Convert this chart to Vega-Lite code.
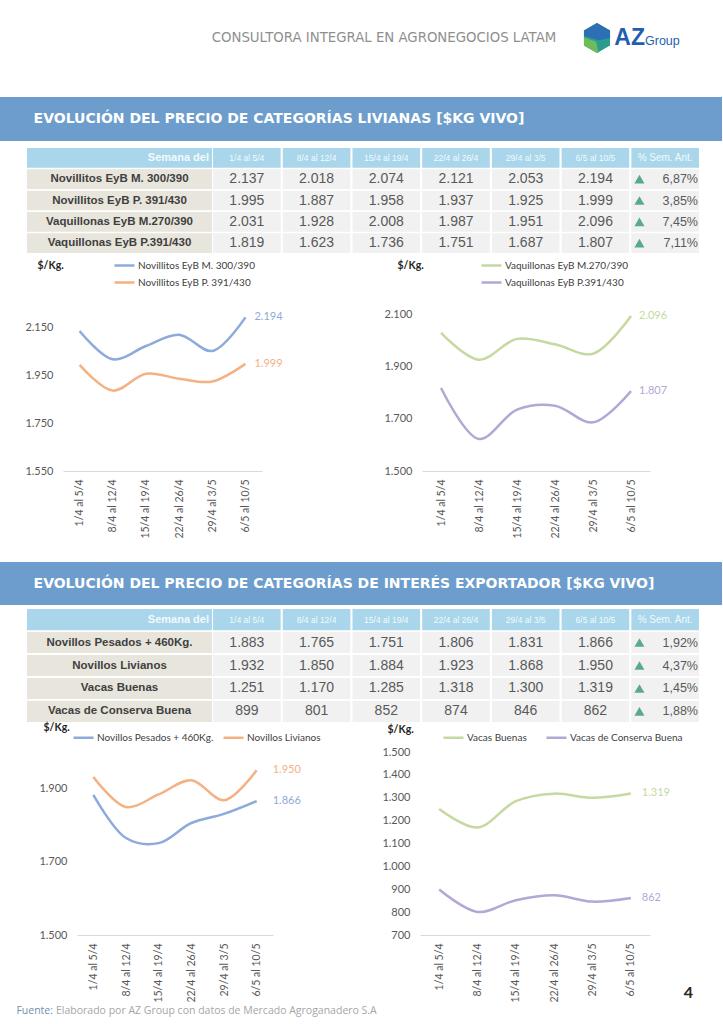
{
"$schema": "https://vega.github.io/schema/vega-lite/v6.json",
"padding": 0,
"background": "white",
"spacing": 0,
"center": false,
"resolve": {"scale": {"color": "independent", "shape": "independent"}, "legend": {"color": "independent", "shape": "independent"}},
"config": {
  "view": {"stroke": null},
  "locale": {"number": {"decimal": ",", "thousands": ".", "grouping": [3], "currency": ["$", ""]}},
  "font": "Lato",
  "axis": {"grid": false, "ticks": false, "labelFont": "Lato", "labelFontSize": 11, "labelColor": "#595959", "titleFont": "Lato", "titleFontSize": 10.5, "titleFontWeight": "bold", "titleColor": "#262626"},
  "axisY": {"domain": false, "labelPadding": 10},
  "axisX": {"domain": true, "domainColor": "#d9d9d9", "domainWidth": 1, "labelAngle": -90, "labelPadding": 8, "labelFontSize": 10.5},
  "legend": {"symbolType": "stroke", "symbolStrokeWidth": 2.5, "symbolSize": 400, "labelFont": "Lato", "labelFontSize": 10, "labelColor": "#404040", "labelOffset": 2, "rowPadding": -1, "padding": 0}
},
"datasets": {
  "cols": [{"col": "1/4 al 5/4"}, {"col": "8/4 al 12/4"}, {"col": "15/4 al 19/4"}, {"col": "22/4 al 26/4"}, {"col": "29/4 al 3/5"}, {"col": "6/5 al 10/5"}, {"col": "% Sem. Ant."}],
  "t1": [
    {"cat": "Novillitos EyB M. 300/390", "week": "1/4 al 5/4", "value": 2137},
    {"cat": "Novillitos EyB M. 300/390", "week": "8/4 al 12/4", "value": 2018},
    {"cat": "Novillitos EyB M. 300/390", "week": "15/4 al 19/4", "value": 2074},
    {"cat": "Novillitos EyB M. 300/390", "week": "22/4 al 26/4", "value": 2121},
    {"cat": "Novillitos EyB M. 300/390", "week": "29/4 al 3/5", "value": 2053},
    {"cat": "Novillitos EyB M. 300/390", "week": "6/5 al 10/5", "value": 2194},
    {"cat": "Novillitos EyB P. 391/430", "week": "1/4 al 5/4", "value": 1995},
    {"cat": "Novillitos EyB P. 391/430", "week": "8/4 al 12/4", "value": 1887},
    {"cat": "Novillitos EyB P. 391/430", "week": "15/4 al 19/4", "value": 1958},
    {"cat": "Novillitos EyB P. 391/430", "week": "22/4 al 26/4", "value": 1937},
    {"cat": "Novillitos EyB P. 391/430", "week": "29/4 al 3/5", "value": 1925},
    {"cat": "Novillitos EyB P. 391/430", "week": "6/5 al 10/5", "value": 1999},
    {"cat": "Vaquillonas EyB M.270/390", "week": "1/4 al 5/4", "value": 2031},
    {"cat": "Vaquillonas EyB M.270/390", "week": "8/4 al 12/4", "value": 1928},
    {"cat": "Vaquillonas EyB M.270/390", "week": "15/4 al 19/4", "value": 2008},
    {"cat": "Vaquillonas EyB M.270/390", "week": "22/4 al 26/4", "value": 1987},
    {"cat": "Vaquillonas EyB M.270/390", "week": "29/4 al 3/5", "value": 1951},
    {"cat": "Vaquillonas EyB M.270/390", "week": "6/5 al 10/5", "value": 2096},
    {"cat": "Vaquillonas EyB P.391/430", "week": "1/4 al 5/4", "value": 1819},
    {"cat": "Vaquillonas EyB P.391/430", "week": "8/4 al 12/4", "value": 1623},
    {"cat": "Vaquillonas EyB P.391/430", "week": "15/4 al 19/4", "value": 1736},
    {"cat": "Vaquillonas EyB P.391/430", "week": "22/4 al 26/4", "value": 1751},
    {"cat": "Vaquillonas EyB P.391/430", "week": "29/4 al 3/5", "value": 1687},
    {"cat": "Vaquillonas EyB P.391/430", "week": "6/5 al 10/5", "value": 1807}
  ],
  "p1": [
    {"cat": "Novillitos EyB M. 300/390", "pct": 0.0687},
    {"cat": "Novillitos EyB P. 391/430", "pct": 0.0385},
    {"cat": "Vaquillonas EyB M.270/390", "pct": 0.0745},
    {"cat": "Vaquillonas EyB P.391/430", "pct": 0.0711}
  ],
  "t2": [
    {"cat": "Novillos Pesados + 460Kg.", "week": "1/4 al 5/4", "value": 1883},
    {"cat": "Novillos Pesados + 460Kg.", "week": "8/4 al 12/4", "value": 1765},
    {"cat": "Novillos Pesados + 460Kg.", "week": "15/4 al 19/4", "value": 1751},
    {"cat": "Novillos Pesados + 460Kg.", "week": "22/4 al 26/4", "value": 1806},
    {"cat": "Novillos Pesados + 460Kg.", "week": "29/4 al 3/5", "value": 1831},
    {"cat": "Novillos Pesados + 460Kg.", "week": "6/5 al 10/5", "value": 1866},
    {"cat": "Novillos Livianos", "week": "1/4 al 5/4", "value": 1932},
    {"cat": "Novillos Livianos", "week": "8/4 al 12/4", "value": 1850},
    {"cat": "Novillos Livianos", "week": "15/4 al 19/4", "value": 1884},
    {"cat": "Novillos Livianos", "week": "22/4 al 26/4", "value": 1923},
    {"cat": "Novillos Livianos", "week": "29/4 al 3/5", "value": 1868},
    {"cat": "Novillos Livianos", "week": "6/5 al 10/5", "value": 1950},
    {"cat": "Vacas Buenas", "week": "1/4 al 5/4", "value": 1251},
    {"cat": "Vacas Buenas", "week": "8/4 al 12/4", "value": 1170},
    {"cat": "Vacas Buenas", "week": "15/4 al 19/4", "value": 1285},
    {"cat": "Vacas Buenas", "week": "22/4 al 26/4", "value": 1318},
    {"cat": "Vacas Buenas", "week": "29/4 al 3/5", "value": 1300},
    {"cat": "Vacas Buenas", "week": "6/5 al 10/5", "value": 1319},
    {"cat": "Vacas de Conserva Buena", "week": "1/4 al 5/4", "value": 899},
    {"cat": "Vacas de Conserva Buena", "week": "8/4 al 12/4", "value": 801},
    {"cat": "Vacas de Conserva Buena", "week": "15/4 al 19/4", "value": 852},
    {"cat": "Vacas de Conserva Buena", "week": "22/4 al 26/4", "value": 874},
    {"cat": "Vacas de Conserva Buena", "week": "29/4 al 3/5", "value": 846},
    {"cat": "Vacas de Conserva Buena", "week": "6/5 al 10/5", "value": 862}
  ],
  "p2": [
    {"cat": "Novillos Pesados + 460Kg.", "pct": 0.0192},
    {"cat": "Novillos Livianos", "pct": 0.0437},
    {"cat": "Vacas Buenas", "pct": 0.0145},
    {"cat": "Vacas de Conserva Buena", "pct": 0.0188}
  ]
},
"vconcat": [
  {"hconcat": [
    {"width": 208, "height": 97, "data": {"values": []}, "mark": "rect"},
    {"width": 352, "height": 76, "data": {"values": [{"t": "CONSULTORA INTEGRAL EN AGRONEGOCIOS LATAM"}]},
     "mark": {"type": "text", "font": "DejaVu Sans", "fontSize": 13.3, "color": "#8f8f8f"},
     "encoding": {"text": {"field": "t", "type": "nominal"}}},
    {"width": 74, "height": 76, "data": {"values": [{"part": "base"}, {"part": "top"}, {"part": "leaf"}]},
     "mark": {"type": "point", "filled": true, "size": 900, "opacity": 1, "strokeWidth": 0},
     "encoding": {
       "shape": {"field": "part", "type": "nominal", "scale": {"domain": ["base", "top", "leaf"], "range": ["M0,-1L0.87,-0.5L0.87,0.5L0,1L-0.87,0.5L-0.87,-0.5Z", "M0,-1L0.87,-0.5L0.87,0L0.1,0.15L-0.87,-0.15L-0.87,-0.5Z", "M-0.87,-0.05L-0.05,0.25L0.1,1L0,1L-0.87,0.5Z"]}, "legend": null},
       "color": {"field": "part", "type": "nominal", "scale": {"domain": ["base", "top", "leaf"], "range": ["#2a9d8f", "#2c6fb5", "#6dbb5a"]}, "legend": null}
     }},
    {"width": 22, "height": 76, "data": {"values": [{"a": "AZ", "g": "Group"}]},
     "layer": [
       {"mark": {"type": "text", "align": "right", "font": "Liberation Sans", "fontWeight": "bold", "fontSize": 23, "color": "#1f5fae"}, "encoding": {"text": {"field": "a", "type": "nominal"}}},
       {"mark": {"type": "text", "align": "left", "font": "Liberation Sans", "fontSize": 12.5, "color": "#1f5fae", "dy": 3}, "encoding": {"text": {"field": "g", "type": "nominal"}}}
     ]}
  ], "spacing": 0, "bounds": "flush"},

  {"hconcat": [
    {"width": 558, "height": 44, "view": {"fill": "#6c9dcd"}, "data": {"values": [{"t": "EVOLUCIÓN DEL PRECIO DE CATEGORÍAS LIVIANAS [$KG VIVO]"}]},
     "mark": {"type": "text", "font": "DejaVu Sans", "fontWeight": "bold", "fontSize": 14, "color": "white"},
     "encoding": {"text": {"field": "t", "type": "nominal"}}},
    {"width": 164, "height": 44, "view": {"fill": "#6c9dcd"}, "data": {"values": []}, "mark": "rect"},
    {"width": 1, "height": 50, "data": {"values": []}, "mark": "rect"}
  ], "spacing": 0, "bounds": "flush"},

  {"hconcat": [
    {"width": 27, "height": 105, "data": {"values": []}, "mark": "rect"},
    {"width": 185, "height": 105,
     "layer": [
       {"data": {"name": "p1"}, "mark": {"type": "rect", "color": "#e8e5dc"},
        "encoding": {"y": {"field": "cat", "type": "nominal", "scale": {"domain": ["Semana del", "Novillitos EyB M. 300/390", "Novillitos EyB P. 391/430", "Vaquillonas EyB M.270/390", "Vaquillonas EyB P.391/430"], "paddingInner": 0.08, "paddingOuter": 0}, "axis": null}}},
       {"data": {"values": [{"h": "Semana del"}]}, "mark": {"type": "rect", "color": "#a9d6ea"},
        "encoding": {"y": {"field": "h", "type": "nominal", "scale": {"domain": ["Semana del", "Novillitos EyB M. 300/390", "Novillitos EyB P. 391/430", "Vaquillonas EyB M.270/390", "Vaquillonas EyB P.391/430"], "paddingInner": 0.08, "paddingOuter": 0}, "axis": null}}},
       {"data": {"name": "p1"}, "mark": {"type": "text", "font": "Liberation Sans", "fontWeight": "bold", "fontSize": 11.5, "color": "#404040"},
        "encoding": {"y": {"field": "cat", "type": "nominal", "scale": {"domain": ["Semana del", "Novillitos EyB M. 300/390", "Novillitos EyB P. 391/430", "Vaquillonas EyB M.270/390", "Vaquillonas EyB P.391/430"], "paddingInner": 0.08, "paddingOuter": 0}, "axis": null}, "text": {"field": "cat", "type": "nominal"}}},
       {"data": {"values": [{"h": "Semana del"}]}, "mark": {"type": "text", "align": "right", "dx": -3, "font": "Liberation Sans", "fontWeight": "bold", "fontSize": 11, "color": "#f2fafd"},
        "encoding": {"x": {"datum": "Semana del", "type": "nominal", "bandPosition": 1, "scale": {"type": "band", "domain": ["Semana del"], "paddingInner": 0, "paddingOuter": 0}, "axis": null},
                     "y": {"field": "h", "type": "nominal", "scale": {"domain": ["Semana del", "Novillitos EyB M. 300/390", "Novillitos EyB P. 391/430", "Vaquillonas EyB M.270/390", "Vaquillonas EyB P.391/430"], "paddingInner": 0.08, "paddingOuter": 0}, "axis": null},
                     "text": {"field": "h", "type": "nominal"}}}
     ]},
    {"width": 488, "height": 105,
     "layer": [
       {"data": {"name": "cols"}, "mark": {"type": "rect", "color": "#a9d6ea"},
        "encoding": {"x": {"field": "col", "type": "nominal", "scale": {"domain": ["1/4 al 5/4", "8/4 al 12/4", "15/4 al 19/4", "22/4 al 26/4", "29/4 al 3/5", "6/5 al 10/5", "% Sem. Ant."], "paddingInner": 0.03, "paddingOuter": 0.015}, "axis": null},
                     "y": {"datum": "Semana del", "type": "nominal", "scale": {"domain": ["Semana del", "Novillitos EyB M. 300/390", "Novillitos EyB P. 391/430", "Vaquillonas EyB M.270/390", "Vaquillonas EyB P.391/430"], "paddingInner": 0.08, "paddingOuter": 0}, "axis": null}}},
       {"data": {"name": "cols"}, "mark": {"type": "text", "font": "Liberation Sans Narrow, Liberation Sans", "color": "#f2fafd"},
        "encoding": {"x": {"field": "col", "type": "nominal", "scale": {"domain": ["1/4 al 5/4", "8/4 al 12/4", "15/4 al 19/4", "22/4 al 26/4", "29/4 al 3/5", "6/5 al 10/5", "% Sem. Ant."], "paddingInner": 0.03, "paddingOuter": 0.015}, "axis": null},
                     "y": {"datum": "Semana del", "type": "nominal", "scale": {"domain": ["Semana del", "Novillitos EyB M. 300/390", "Novillitos EyB P. 391/430", "Vaquillonas EyB M.270/390", "Vaquillonas EyB P.391/430"], "paddingInner": 0.08, "paddingOuter": 0}, "axis": null},
                     "text": {"field": "col", "type": "nominal"},
                     "size": {"condition": {"test": "datum.col === '% Sem. Ant.'", "value": 10}, "value": 8.5}}},
       {"data": {"name": "t1"}, "mark": {"type": "rect", "color": "#f1f1f1"},
        "encoding": {"x": {"field": "week", "type": "nominal", "scale": {"domain": ["1/4 al 5/4", "8/4 al 12/4", "15/4 al 19/4", "22/4 al 26/4", "29/4 al 3/5", "6/5 al 10/5", "% Sem. Ant."], "paddingInner": 0.03, "paddingOuter": 0.015}, "axis": null},
                     "y": {"field": "cat", "type": "nominal", "scale": {"domain": ["Semana del", "Novillitos EyB M. 300/390", "Novillitos EyB P. 391/430", "Vaquillonas EyB M.270/390", "Vaquillonas EyB P.391/430"], "paddingInner": 0.08, "paddingOuter": 0}, "axis": null}}},
       {"data": {"name": "p1"}, "mark": {"type": "rect", "color": "#f1f1f1"},
        "encoding": {"x": {"datum": "% Sem. Ant.", "type": "nominal", "scale": {"domain": ["1/4 al 5/4", "8/4 al 12/4", "15/4 al 19/4", "22/4 al 26/4", "29/4 al 3/5", "6/5 al 10/5", "% Sem. Ant."], "paddingInner": 0.03, "paddingOuter": 0.015}, "axis": null},
                     "y": {"field": "cat", "type": "nominal", "scale": {"domain": ["Semana del", "Novillitos EyB M. 300/390", "Novillitos EyB P. 391/430", "Vaquillonas EyB M.270/390", "Vaquillonas EyB P.391/430"], "paddingInner": 0.08, "paddingOuter": 0}, "axis": null}}},
       {"data": {"name": "t1"}, "mark": {"type": "text", "font": "Liberation Sans Narrow, Liberation Sans", "fontSize": 14, "color": "#595959"},
        "encoding": {"x": {"field": "week", "type": "nominal", "scale": {"domain": ["1/4 al 5/4", "8/4 al 12/4", "15/4 al 19/4", "22/4 al 26/4", "29/4 al 3/5", "6/5 al 10/5", "% Sem. Ant."], "paddingInner": 0.03, "paddingOuter": 0.015}, "axis": null},
                     "y": {"field": "cat", "type": "nominal", "scale": {"domain": ["Semana del", "Novillitos EyB M. 300/390", "Novillitos EyB P. 391/430", "Vaquillonas EyB M.270/390", "Vaquillonas EyB P.391/430"], "paddingInner": 0.08, "paddingOuter": 0}, "axis": null},
                     "text": {"field": "value", "type": "quantitative", "format": ",d"}}},
       {"data": {"name": "p1"}, "mark": {"type": "point", "shape": "triangle-up", "filled": true, "size": 100, "opacity": 1, "color": "#5aa98c"},
        "encoding": {"x": {"datum": "% Sem. Ant.", "type": "nominal", "bandPosition": 0.12, "scale": {"domain": ["1/4 al 5/4", "8/4 al 12/4", "15/4 al 19/4", "22/4 al 26/4", "29/4 al 3/5", "6/5 al 10/5", "% Sem. Ant."], "paddingInner": 0.03, "paddingOuter": 0.015}, "axis": null},
                     "y": {"field": "cat", "type": "nominal", "scale": {"domain": ["Semana del", "Novillitos EyB M. 300/390", "Novillitos EyB P. 391/430", "Vaquillonas EyB M.270/390", "Vaquillonas EyB P.391/430"], "paddingInner": 0.08, "paddingOuter": 0}, "axis": null}}},
       {"data": {"name": "p1"}, "mark": {"type": "text", "align": "right", "dx": -1, "font": "Liberation Sans Narrow, Liberation Sans", "fontSize": 12.5, "color": "#595959"},
        "encoding": {"x": {"datum": "% Sem. Ant.", "type": "nominal", "bandPosition": 1, "scale": {"domain": ["1/4 al 5/4", "8/4 al 12/4", "15/4 al 19/4", "22/4 al 26/4", "29/4 al 3/5", "6/5 al 10/5", "% Sem. Ant."], "paddingInner": 0.03, "paddingOuter": 0.015}, "axis": null},
                     "y": {"field": "cat", "type": "nominal", "scale": {"domain": ["Semana del", "Novillitos EyB M. 300/390", "Novillitos EyB P. 391/430", "Vaquillonas EyB M.270/390", "Vaquillonas EyB P.391/430"], "paddingInner": 0.08, "paddingOuter": 0}, "axis": null},
                     "text": {"field": "pct", "type": "quantitative", "format": ".2%"}}}
     ]}
  ], "spacing": 0, "bounds": "flush"},

  {"hconcat": [
    {"width": 63, "height": 258, "data": {"values": []}, "mark": "rect"},
    {"width": 199, "height": 167, "data": {"name": "t1"},
     "transform": [{"filter": {"field": "cat", "oneOf": ["Novillitos EyB M. 300/390", "Novillitos EyB P. 391/430"]}}],
     "encoding": {
       "x": {"field": "week", "type": "ordinal", "scale": {"type": "point", "domain": ["1/4 al 5/4", "8/4 al 12/4", "15/4 al 19/4", "22/4 al 26/4", "29/4 al 3/5", "6/5 al 10/5"], "padding": 0.5}, "axis": {"title": null}},
       "y": {"field": "value", "type": "quantitative", "scale": {"domain": [1550, 2250], "nice": false, "zero": false},
             "axis": {"values": [1550, 1750, 1950, 2150], "format": ",d", "title": "$/Kg.", "titleAngle": 0, "titleAlign": "left", "titleBaseline": "middle", "titleX": -26, "titleY": -39}},
       "color": {"field": "cat", "type": "nominal", "scale": {"domain": ["Novillitos EyB M. 300/390", "Novillitos EyB P. 391/430"], "range": ["#8eaadb", "#f4b183"]},
                 "legend": {"title": null, "orient": "none", "legendX": 50, "legendY": -50, "direction": "vertical"}}
     },
     "layer": [
       {"mark": {"type": "line", "interpolate": "catmull-rom", "strokeWidth": 2.5}},
       {"transform": [{"filter": {"field": "week", "equal": "6/5 al 10/5"}}],
        "mark": {"type": "text", "align": "left", "dx": 9, "font": "Lato", "fontSize": 11},
        "encoding": {"text": {"field": "value", "type": "quantitative", "format": ",d"}}}
     ]},
    {"width": 160, "height": 1, "data": {"values": []}, "mark": "rect"},
    {"width": 228, "height": 167, "data": {"name": "t1"},
     "transform": [{"filter": {"field": "cat", "oneOf": ["Vaquillonas EyB M.270/390", "Vaquillonas EyB P.391/430"]}}],
     "encoding": {
       "x": {"field": "week", "type": "ordinal", "scale": {"type": "point", "domain": ["1/4 al 5/4", "8/4 al 12/4", "15/4 al 19/4", "22/4 al 26/4", "29/4 al 3/5", "6/5 al 10/5"], "padding": 0.5}, "axis": {"title": null}},
       "y": {"field": "value", "type": "quantitative", "scale": {"domain": [1500, 2142], "nice": false, "zero": false},
             "axis": {"values": [1500, 1700, 1900, 2100], "format": ",d", "title": "$/Kg.", "titleAngle": 0, "titleAlign": "left", "titleBaseline": "middle", "titleX": -25, "titleY": -39}},
       "color": {"field": "cat", "type": "nominal", "scale": {"domain": ["Vaquillonas EyB M.270/390", "Vaquillonas EyB P.391/430"], "range": ["#c5d9a0", "#b4a7d6"]},
                 "legend": {"title": null, "orient": "none", "legendX": 58, "legendY": -50, "direction": "vertical"}}
     },
     "layer": [
       {"mark": {"type": "line", "interpolate": "catmull-rom", "strokeWidth": 2.5}},
       {"transform": [{"filter": {"field": "week", "equal": "6/5 al 10/5"}}],
        "mark": {"type": "text", "align": "left", "dx": 8, "font": "Lato", "fontSize": 11},
        "encoding": {"text": {"field": "value", "type": "quantitative", "format": ",d"}}}
     ]}
  ], "spacing": 0, "bounds": "flush", "resolve": {"scale": {"color": "independent"}, "legend": {"color": "independent"}}},

  {"hconcat": [
    {"width": 688, "height": 43, "view": {"fill": "#6c9dcd"}, "data": {"values": [{"t": "EVOLUCIÓN DEL PRECIO DE CATEGORÍAS DE INTERÉS EXPORTADOR [$KG VIVO]"}]},
     "mark": {"type": "text", "font": "DejaVu Sans", "fontWeight": "bold", "fontSize": 14, "color": "white"},
     "encoding": {"text": {"field": "t", "type": "nominal"}}},
    {"width": 34, "height": 43, "view": {"fill": "#6c9dcd"}, "data": {"values": []}, "mark": "rect"},
    {"width": 1, "height": 47, "data": {"values": []}, "mark": "rect"}
  ], "spacing": 0, "bounds": "flush"},

  {"hconcat": [
    {"width": 27, "height": 113, "data": {"values": []}, "mark": "rect"},
    {"width": 185, "height": 113,
     "layer": [
       {"data": {"name": "p2"}, "mark": {"type": "rect", "color": "#e8e5dc"},
        "encoding": {"y": {"field": "cat", "type": "nominal", "scale": {"domain": ["Semana del", "Novillos Pesados + 460Kg.", "Novillos Livianos", "Vacas Buenas", "Vacas de Conserva Buena"], "paddingInner": 0.08, "paddingOuter": 0}, "axis": null}}},
       {"data": {"values": [{"h": "Semana del"}]}, "mark": {"type": "rect", "color": "#a9d6ea"},
        "encoding": {"y": {"field": "h", "type": "nominal", "scale": {"domain": ["Semana del", "Novillos Pesados + 460Kg.", "Novillos Livianos", "Vacas Buenas", "Vacas de Conserva Buena"], "paddingInner": 0.08, "paddingOuter": 0}, "axis": null}}},
       {"data": {"name": "p2"}, "mark": {"type": "text", "font": "Liberation Sans", "fontWeight": "bold", "fontSize": 11.5, "color": "#404040"},
        "encoding": {"y": {"field": "cat", "type": "nominal", "scale": {"domain": ["Semana del", "Novillos Pesados + 460Kg.", "Novillos Livianos", "Vacas Buenas", "Vacas de Conserva Buena"], "paddingInner": 0.08, "paddingOuter": 0}, "axis": null}, "text": {"field": "cat", "type": "nominal"}}},
       {"data": {"values": [{"h": "Semana del"}]}, "mark": {"type": "text", "align": "right", "dx": -3, "font": "Liberation Sans", "fontWeight": "bold", "fontSize": 11, "color": "#f2fafd"},
        "encoding": {"x": {"datum": "Semana del", "type": "nominal", "bandPosition": 1, "scale": {"type": "band", "domain": ["Semana del"], "paddingInner": 0, "paddingOuter": 0}, "axis": null},
                     "y": {"field": "h", "type": "nominal", "scale": {"domain": ["Semana del", "Novillos Pesados + 460Kg.", "Novillos Livianos", "Vacas Buenas", "Vacas de Conserva Buena"], "paddingInner": 0.08, "paddingOuter": 0}, "axis": null},
                     "text": {"field": "h", "type": "nominal"}}}
     ]},
    {"width": 488, "height": 113,
     "layer": [
       {"data": {"name": "cols"}, "mark": {"type": "rect", "color": "#a9d6ea"},
        "encoding": {"x": {"field": "col", "type": "nominal", "scale": {"domain": ["1/4 al 5/4", "8/4 al 12/4", "15/4 al 19/4", "22/4 al 26/4", "29/4 al 3/5", "6/5 al 10/5", "% Sem. Ant."], "paddingInner": 0.03, "paddingOuter": 0.015}, "axis": null},
                     "y": {"datum": "Semana del", "type": "nominal", "scale": {"domain": ["Semana del", "Novillos Pesados + 460Kg.", "Novillos Livianos", "Vacas Buenas", "Vacas de Conserva Buena"], "paddingInner": 0.08, "paddingOuter": 0}, "axis": null}}},
       {"data": {"name": "cols"}, "mark": {"type": "text", "font": "Liberation Sans Narrow, Liberation Sans", "color": "#f2fafd"},
        "encoding": {"x": {"field": "col", "type": "nominal", "scale": {"domain": ["1/4 al 5/4", "8/4 al 12/4", "15/4 al 19/4", "22/4 al 26/4", "29/4 al 3/5", "6/5 al 10/5", "% Sem. Ant."], "paddingInner": 0.03, "paddingOuter": 0.015}, "axis": null},
                     "y": {"datum": "Semana del", "type": "nominal", "scale": {"domain": ["Semana del", "Novillos Pesados + 460Kg.", "Novillos Livianos", "Vacas Buenas", "Vacas de Conserva Buena"], "paddingInner": 0.08, "paddingOuter": 0}, "axis": null},
                     "text": {"field": "col", "type": "nominal"},
                     "size": {"condition": {"test": "datum.col === '% Sem. Ant.'", "value": 10}, "value": 8.5}}},
       {"data": {"name": "t2"}, "mark": {"type": "rect", "color": "#f1f1f1"},
        "encoding": {"x": {"field": "week", "type": "nominal", "scale": {"domain": ["1/4 al 5/4", "8/4 al 12/4", "15/4 al 19/4", "22/4 al 26/4", "29/4 al 3/5", "6/5 al 10/5", "% Sem. Ant."], "paddingInner": 0.03, "paddingOuter": 0.015}, "axis": null},
                     "y": {"field": "cat", "type": "nominal", "scale": {"domain": ["Semana del", "Novillos Pesados + 460Kg.", "Novillos Livianos", "Vacas Buenas", "Vacas de Conserva Buena"], "paddingInner": 0.08, "paddingOuter": 0}, "axis": null}}},
       {"data": {"name": "p2"}, "mark": {"type": "rect", "color": "#f1f1f1"},
        "encoding": {"x": {"datum": "% Sem. Ant.", "type": "nominal", "scale": {"domain": ["1/4 al 5/4", "8/4 al 12/4", "15/4 al 19/4", "22/4 al 26/4", "29/4 al 3/5", "6/5 al 10/5", "% Sem. Ant."], "paddingInner": 0.03, "paddingOuter": 0.015}, "axis": null},
                     "y": {"field": "cat", "type": "nominal", "scale": {"domain": ["Semana del", "Novillos Pesados + 460Kg.", "Novillos Livianos", "Vacas Buenas", "Vacas de Conserva Buena"], "paddingInner": 0.08, "paddingOuter": 0}, "axis": null}}},
       {"data": {"name": "t2"}, "mark": {"type": "text", "font": "Liberation Sans Narrow, Liberation Sans", "fontSize": 14, "color": "#595959"},
        "encoding": {"x": {"field": "week", "type": "nominal", "scale": {"domain": ["1/4 al 5/4", "8/4 al 12/4", "15/4 al 19/4", "22/4 al 26/4", "29/4 al 3/5", "6/5 al 10/5", "% Sem. Ant."], "paddingInner": 0.03, "paddingOuter": 0.015}, "axis": null},
                     "y": {"field": "cat", "type": "nominal", "scale": {"domain": ["Semana del", "Novillos Pesados + 460Kg.", "Novillos Livianos", "Vacas Buenas", "Vacas de Conserva Buena"], "paddingInner": 0.08, "paddingOuter": 0}, "axis": null},
                     "text": {"field": "value", "type": "quantitative", "format": ",d"}}},
       {"data": {"name": "p2"}, "mark": {"type": "point", "shape": "triangle-up", "filled": true, "size": 100, "opacity": 1, "color": "#5aa98c"},
        "encoding": {"x": {"datum": "% Sem. Ant.", "type": "nominal", "bandPosition": 0.12, "scale": {"domain": ["1/4 al 5/4", "8/4 al 12/4", "15/4 al 19/4", "22/4 al 26/4", "29/4 al 3/5", "6/5 al 10/5", "% Sem. Ant."], "paddingInner": 0.03, "paddingOuter": 0.015}, "axis": null},
                     "y": {"field": "cat", "type": "nominal", "scale": {"domain": ["Semana del", "Novillos Pesados + 460Kg.", "Novillos Livianos", "Vacas Buenas", "Vacas de Conserva Buena"], "paddingInner": 0.08, "paddingOuter": 0}, "axis": null}}},
       {"data": {"name": "p2"}, "mark": {"type": "text", "align": "right", "dx": -1, "font": "Liberation Sans Narrow, Liberation Sans", "fontSize": 12.5, "color": "#595959"},
        "encoding": {"x": {"datum": "% Sem. Ant.", "type": "nominal", "bandPosition": 1, "scale": {"domain": ["1/4 al 5/4", "8/4 al 12/4", "15/4 al 19/4", "22/4 al 26/4", "29/4 al 3/5", "6/5 al 10/5", "% Sem. Ant."], "paddingInner": 0.03, "paddingOuter": 0.015}, "axis": null},
                     "y": {"field": "cat", "type": "nominal", "scale": {"domain": ["Semana del", "Novillos Pesados + 460Kg.", "Novillos Livianos", "Vacas Buenas", "Vacas de Conserva Buena"], "paddingInner": 0.08, "paddingOuter": 0}, "axis": null},
                     "text": {"field": "pct", "type": "quantitative", "format": ".2%"}}}
     ]}
  ], "spacing": 0, "bounds": "flush"},

  {"hconcat": [
    {"width": 77, "height": 227, "data": {"values": []}, "mark": "rect"},
    {"width": 196, "height": 183, "data": {"name": "t2"},
     "transform": [{"filter": {"field": "cat", "oneOf": ["Novillos Pesados + 460Kg.", "Novillos Livianos"]}}],
     "encoding": {
       "x": {"field": "week", "type": "ordinal", "scale": {"type": "point", "domain": ["1/4 al 5/4", "8/4 al 12/4", "15/4 al 19/4", "22/4 al 26/4", "29/4 al 3/5", "6/5 al 10/5"], "padding": 0.5}, "axis": {"title": null}},
       "y": {"field": "value", "type": "quantitative", "scale": {"domain": [1500, 2000], "nice": false, "zero": false},
             "axis": {"values": [1500, 1700, 1900], "format": ",d", "title": "$/Kg.", "titleAngle": 0, "titleAlign": "left", "titleBaseline": "middle", "titleX": -34, "titleY": -25}},
       "color": {"field": "cat", "type": "nominal", "scale": {"domain": ["Novillos Pesados + 460Kg.", "Novillos Livianos"], "range": ["#8eaadb", "#f4b183"]},
                 "legend": {"title": null, "orient": "none", "legendX": -5, "legendY": -26, "direction": "horizontal", "columns": 2, "columnPadding": 4}}
     },
     "layer": [
       {"mark": {"type": "line", "interpolate": "catmull-rom", "strokeWidth": 2.5}},
       {"transform": [{"filter": {"field": "week", "equal": "6/5 al 10/5"}}],
        "mark": {"type": "text", "align": "left", "dx": 16, "font": "Lato", "fontSize": 11},
        "encoding": {"text": {"field": "value", "type": "quantitative", "format": ",d"}}}
     ]},
    {"width": 147, "height": 1, "data": {"values": []}, "mark": "rect"},
    {"width": 230, "height": 183, "data": {"name": "t2"},
     "transform": [{"filter": {"field": "cat", "oneOf": ["Vacas Buenas", "Vacas de Conserva Buena"]}}],
     "encoding": {
       "x": {"field": "week", "type": "ordinal", "scale": {"type": "point", "domain": ["1/4 al 5/4", "8/4 al 12/4", "15/4 al 19/4", "22/4 al 26/4", "29/4 al 3/5", "6/5 al 10/5"], "padding": 0.5},
             "axis": {"title": "4", "titleX": 268, "titleY": 57, "titleAngle": 0, "titleAlign": "center", "titleBaseline": "middle", "titleFontSize": 16, "titleFontWeight": "bold", "titleColor": "#262626"}},
       "y": {"field": "value", "type": "quantitative", "scale": {"domain": [700, 1500], "nice": false, "zero": false},
             "axis": {"values": [700, 800, 900, 1000, 1100, 1200, 1300, 1400, 1500], "format": ",d", "title": "$/Kg.", "titleAngle": 0, "titleAlign": "left", "titleBaseline": "middle", "titleX": -33, "titleY": -23}},
       "color": {"field": "cat", "type": "nominal", "scale": {"domain": ["Vacas Buenas", "Vacas de Conserva Buena"], "range": ["#c5d9a0", "#b4a7d6"]},
                 "legend": {"title": null, "orient": "none", "legendX": 22, "legendY": -26, "direction": "horizontal", "columns": 2, "columnPadding": 14}}
     },
     "layer": [
       {"mark": {"type": "line", "interpolate": "catmull-rom", "strokeWidth": 2.5}},
       {"transform": [{"filter": {"field": "week", "equal": "6/5 al 10/5"}}],
        "mark": {"type": "text", "align": "left", "dx": 11, "font": "Lato", "fontSize": 11},
        "encoding": {"text": {"field": "value", "type": "quantitative", "format": ",d"}}}
     ]}
  ], "spacing": 0, "bounds": "flush", "resolve": {"scale": {"color": "independent"}, "legend": {"color": "independent"}}},

  {"width": 110, "height": 16, "data": {"values": [{"a": "Fuente:", "b": "Elaborado por AZ Group con datos de Mercado Agroganadero S.A"}]},
   "layer": [
     {"mark": {"type": "text", "align": "right", "font": "Open Sans", "fontSize": 10.5, "color": "#7090ae", "dx": -2}, "encoding": {"text": {"field": "a", "type": "nominal"}}},
     {"mark": {"type": "text", "align": "left", "font": "Open Sans", "fontSize": 10.5, "color": "#a6a6a6", "dx": 1}, "encoding": {"text": {"field": "b", "type": "nominal"}}}
   ]}
]
}
